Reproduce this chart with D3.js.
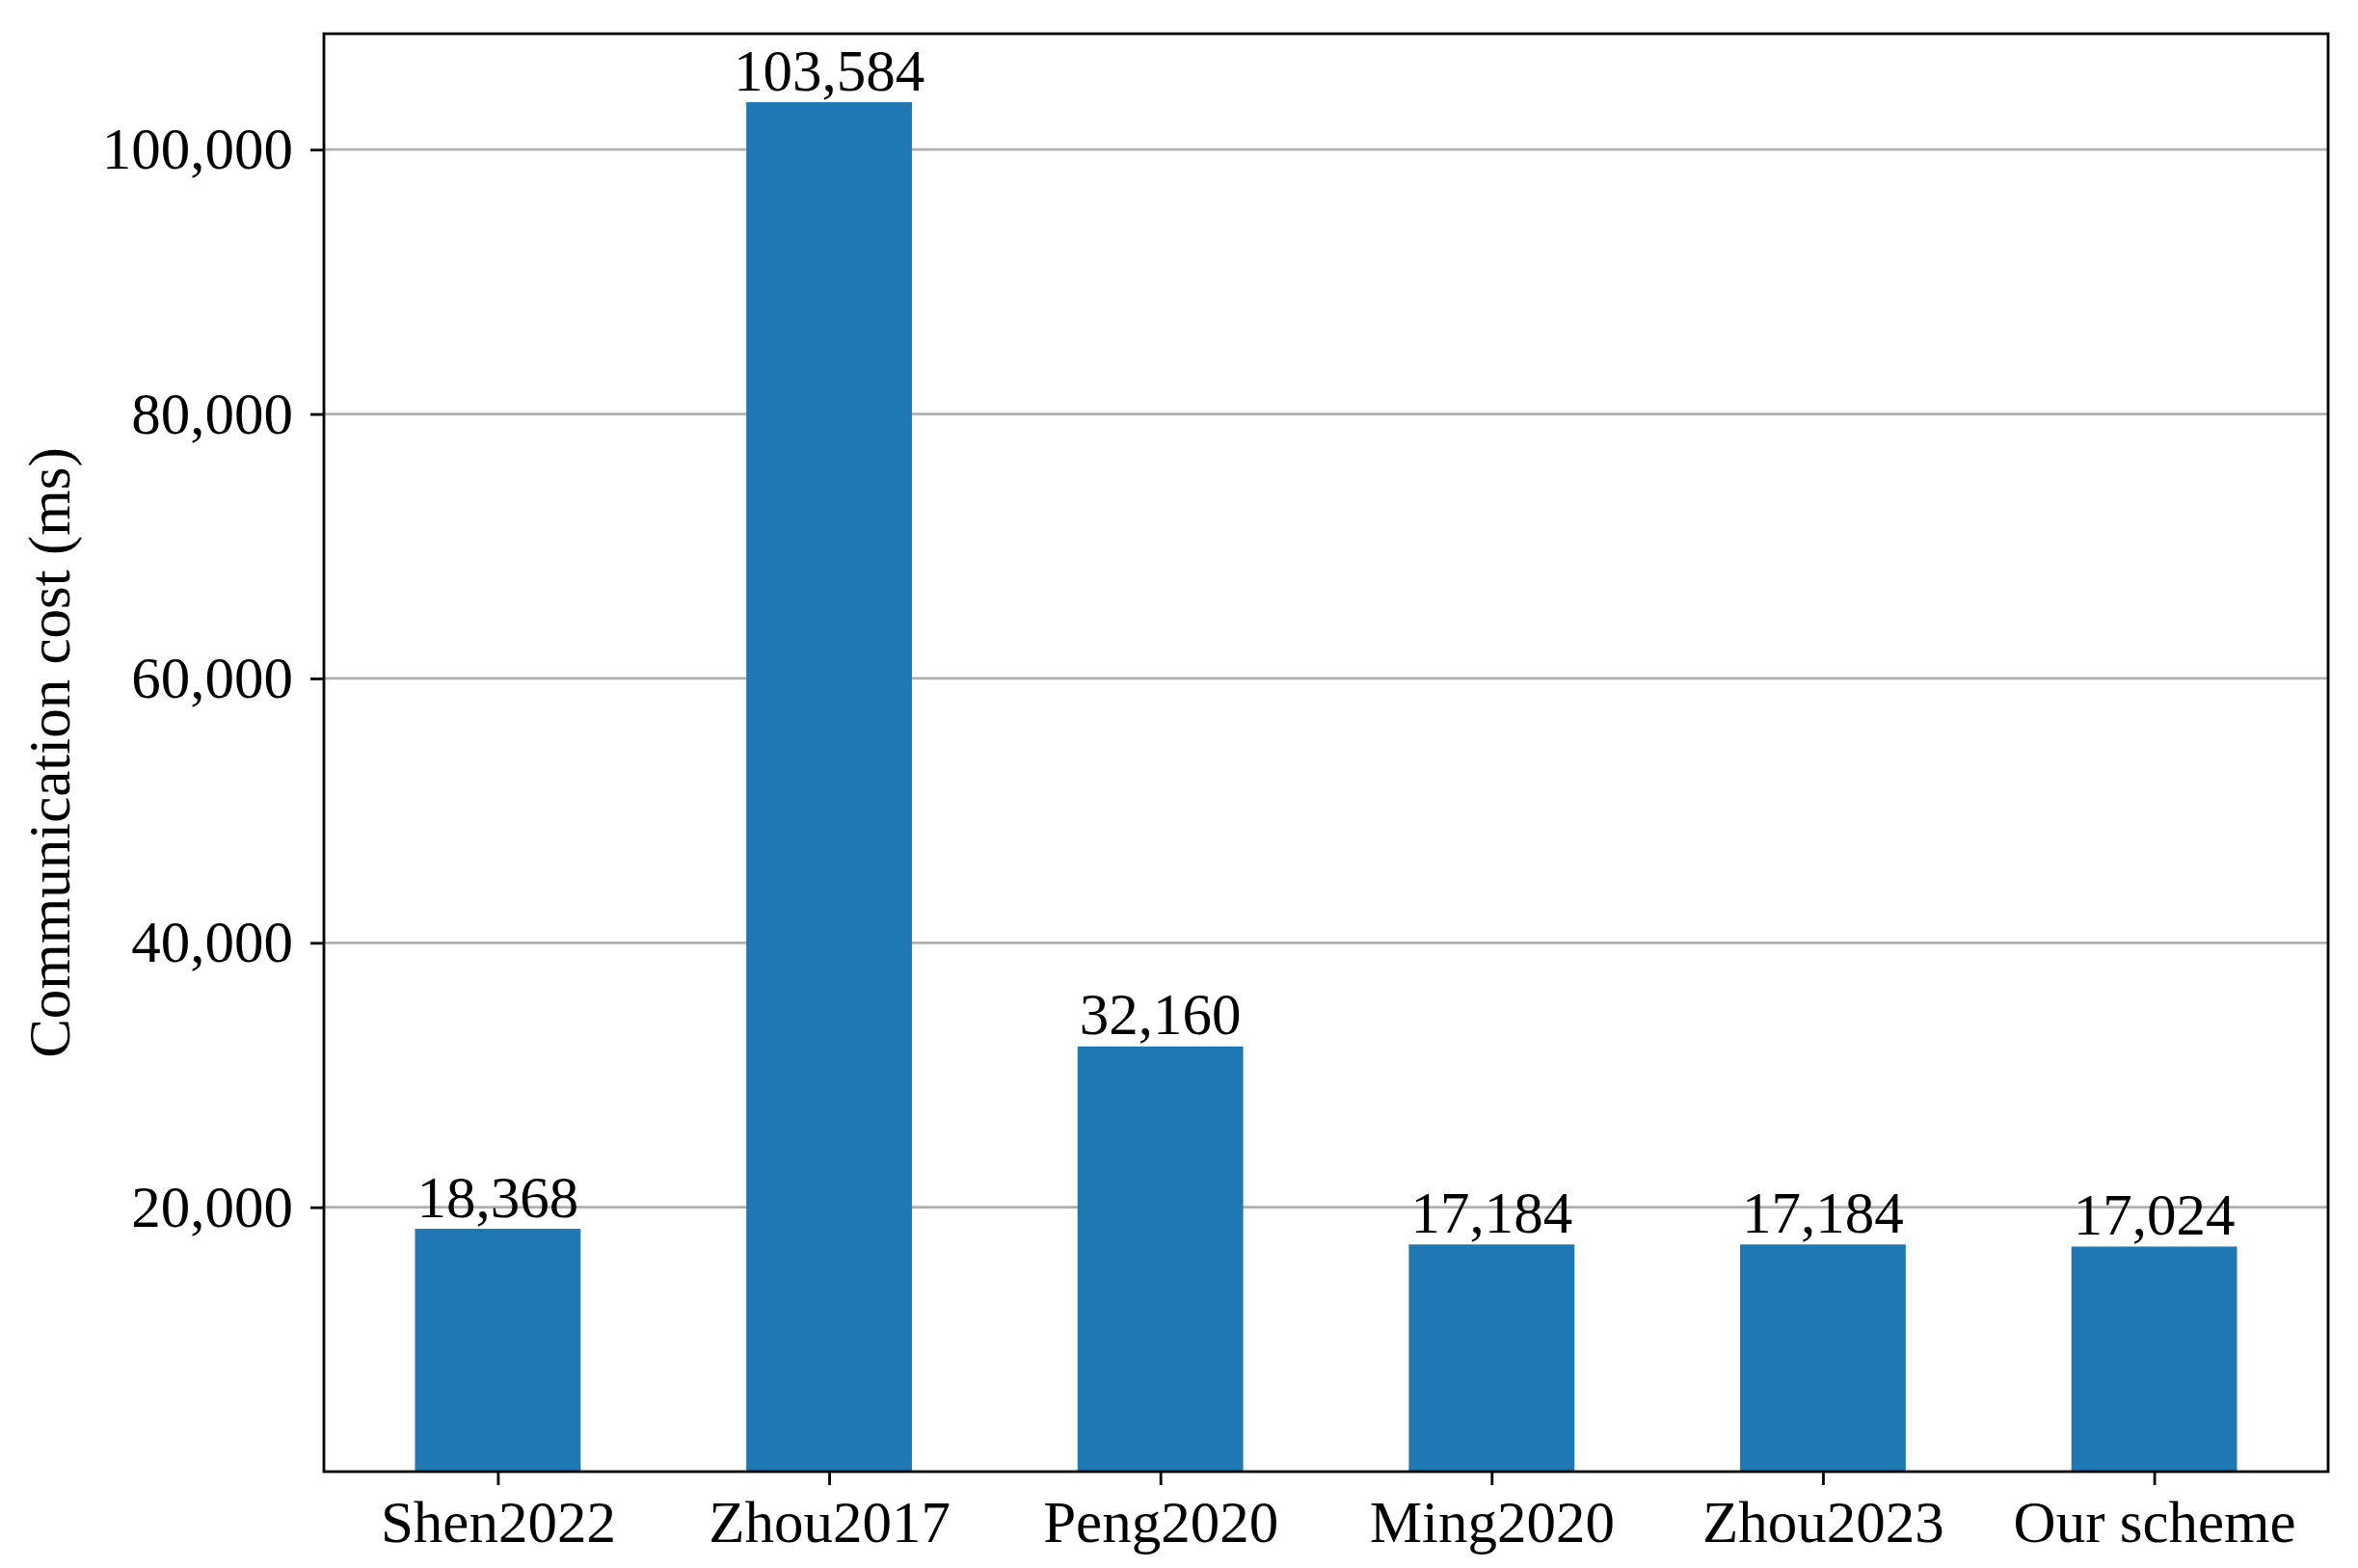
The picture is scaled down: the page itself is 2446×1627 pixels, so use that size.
<!DOCTYPE html>
<html>
<head>
<meta charset="utf-8">
<script src="https://cdn.jsdelivr.net/npm/d3@7"></script>
<style>
  html, body { margin: 0; padding: 0; background: #fff; }
  svg { display: block; }
  text { font-family: "Liberation Serif", "Times New Roman", serif; fill: #000; }
</style>
</head>
<body>
<svg id="chart" width="2446" height="1627"></svg>
<script>
const categories = ["Shen2022", "Zhou2017", "Peng2020", "Ming2020", "Zhou2023", "Our scheme"];
const values = [18368, 103584, 32160, 17184, 17184, 17024];
const yTicks = [20000, 40000, 60000, 80000, 100000];
const yLabel = "Communication cost (ms)";

const m = { left: 336, right: 2415, top: 35, bottom: 1527 };
const svg = d3.select("#chart");
const fmt = d3.format(",");
const fontSize = 61;

// x positions like matplotlib bar chart (bar width 0.5, 5% margins)
const x = d3.scaleLinear().domain([-0.525, categories.length - 1 + 0.525]).range([m.left, m.right]);
const y = d3.scaleLinear().domain([0, d3.max(values) * 1.05]).range([m.bottom, m.top]);
const barW = 0.5;

// gridlines
svg.append("g")
  .selectAll("line")
  .data(yTicks)
  .join("line")
  .attr("x1", m.left).attr("x2", m.right)
  .attr("y1", d => y(d)).attr("y2", d => y(d))
  .attr("stroke", "#b0b0b0").attr("stroke-width", 2.8);

// bars
svg.append("g")
  .selectAll("rect")
  .data(values)
  .join("rect")
  .attr("x", (d, i) => x(i - barW / 2))
  .attr("width", (d, i) => x(i + barW / 2) - x(i - barW / 2))
  .attr("y", d => y(d))
  .attr("height", d => y(0) - y(d))
  .attr("fill", "#1f77b4");

// bar labels
svg.append("g")
  .selectAll("text")
  .data(values)
  .join("text")
  .attr("x", (d, i) => x(i))
  .attr("y", d => y(d) - 12.5)
  .attr("text-anchor", "middle")
  .attr("font-size", fontSize)
  .text(d => fmt(d));

// y axis
const yAxis = d3.axisLeft(y).tickValues(yTicks).tickFormat(fmt).tickSize(14).tickPadding(18);
const gy = svg.append("g").attr("transform", `translate(${m.left},0)`).call(yAxis);
gy.select(".domain").remove();
gy.selectAll(".tick line").attr("stroke", "#000").attr("stroke-width", 2.8);
gy.selectAll(".tick text").attr("font-size", fontSize).attr("font-family", "Liberation Serif").attr("fill", "#000");

// x axis
const xAxis = d3.axisBottom(x).tickValues(d3.range(categories.length)).tickFormat(i => categories[i]).tickSize(14).tickPadding(16);
const gx = svg.append("g").attr("transform", `translate(0,${m.bottom})`).call(xAxis);
gx.select(".domain").remove();
gx.selectAll(".tick line").attr("stroke", "#000").attr("stroke-width", 2.8);
gx.selectAll(".tick text").attr("font-size", fontSize).attr("font-family", "Liberation Serif").attr("fill", "#000");

// frame
svg.append("rect")
  .attr("x", m.left).attr("y", m.top)
  .attr("width", m.right - m.left).attr("height", m.bottom - m.top)
  .attr("fill", "none").attr("stroke", "#000").attr("stroke-width", 2.8);

// y label
svg.append("text")
  .attr("transform", `translate(${51},${(m.top + m.bottom) / 2}) rotate(-90)`)
  .attr("text-anchor", "middle")
  .attr("dominant-baseline", "central")
  .attr("font-size", fontSize)
  .text(yLabel);
</script>
</body>
</html>
